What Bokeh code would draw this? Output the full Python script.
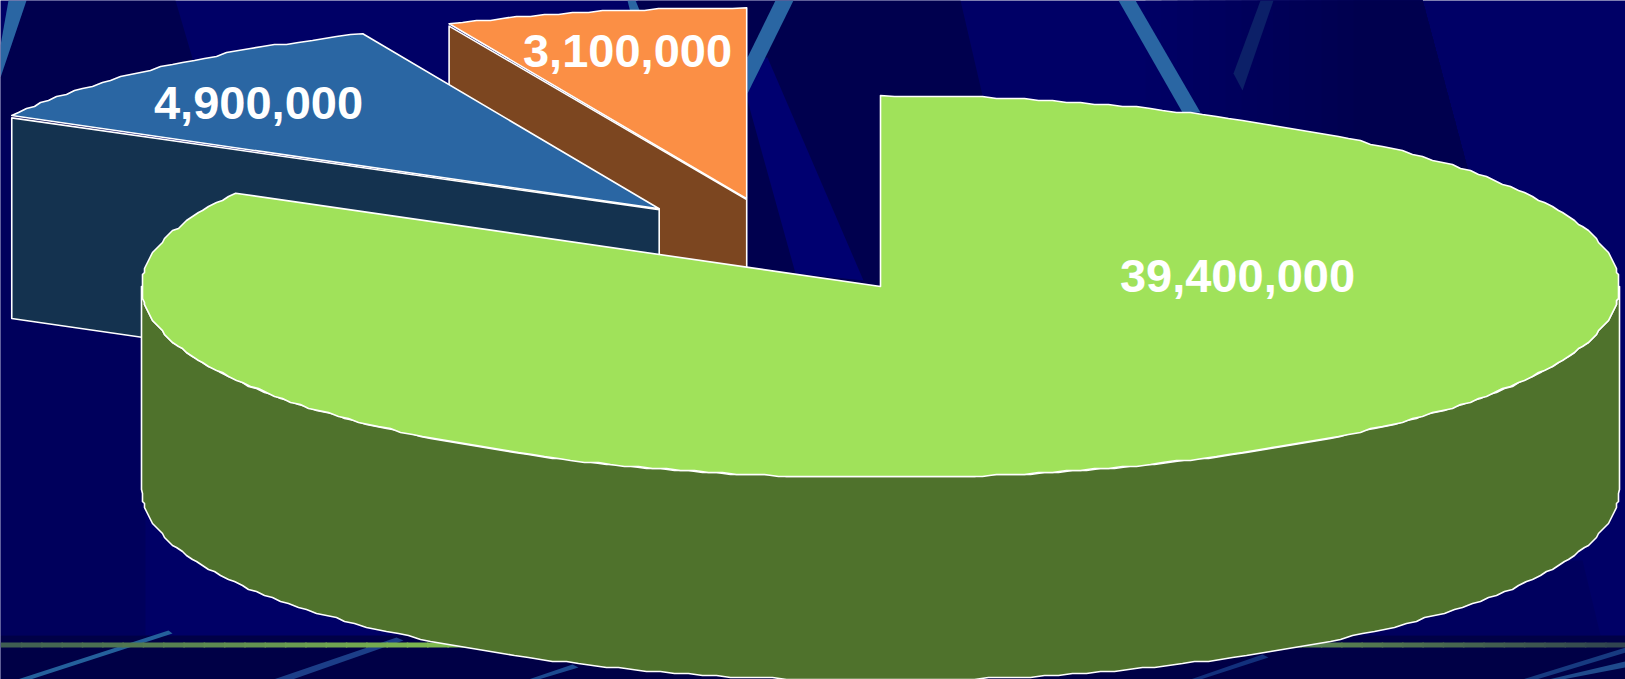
import math
from bokeh.core.properties import value
from bokeh.embed import file_html
from bokeh.models import Range1d
from bokeh.plotting import figure
from bokeh.resources import INLINE

# ---- data ----
slice_values = [39400000, 4900000, 3100000]
top_colors = ["#A0E25A", "#2A66A3", "#FB8F45"]
side_colors = ["#4F722C", "#14324F", "#7C4620"]

# ---- layout (reference pixel space) ----
W, H = 1625, 679
RY, DEPTH = 191, 203
slice_rx = [739, 742, 745]
slice_centers = [(880, 286), (658.7, 208.3), (746.2, 198.3)]
label_anchor = [(1237, 275), (258, 102), (627, 50.5)]
BG = "#000066"

p = figure(width=W, height=H, output_backend="svg", toolbar_location=None,
           x_range=Range1d(0, W), y_range=Range1d(H, 0),
           min_border=0, border_fill_color=BG, background_fill_color=BG,
           outline_line_color=None)
p.axis.visible = False
p.grid.visible = False

# ---- background decoration ----
dark = "#00004E"
mid = "#00005E"
bg_shapes = [
    ([26, 175, 192, 205, 0, 0], [0, 0, 58, 130, 130, 77], dark),
    ([0, 145, 145, 0], [130, 130, 635, 635], "#00005C"),
    ([637, 960, 982, 1000, 640], [0, 0, 95, 300, 300], dark),
    ([767, 863, 795, 747, 747], [57, 280, 273, 100, 60], "#000070"),
]
# soft fade towards the dark wedge on the right
for k in range(14):
    shade = 0x64 - k * (0x64 - 0x4E) // 13
    left = 1145 + k * 16
    bg_shapes.append(([left, 1422, 1467, 1467, left], [0, 0, 168, 200, 200],
                      "#0000%02x" % shade))
bg_shapes += [
    ([1000, 1582, 1600, 1000], [560, 560, 635, 635], mid),
    ([0, W, W, 0], [635, 635, 679, 679], "#000046"),
]
streaks = [
    ([8, 26, 0, 0], [0, 0, 77, 45], "#2A66A3"),
    ([627, 635, 640, 630], [0, 0, 12, 12], "#2A66A3"),
    ([775, 793, 747, 747], [0, 0, 93, 57], "#2A66A3"),
    ([1118, 1135, 1200, 1182], [0, 0, 112, 112], "#2A66A3"),
    ([1260, 1273, 1242, 1233], [0, 0, 90, 73], "#0C2068"),
    ([17, 30, 172, 168], [679, 679, 633, 630], "#24609C"),
    ([273, 292, 403, 396], [679, 679, 640, 637], "#1C3E88"),
    ([528, 538, 578, 572], [679, 679, 667, 664], "#1C4A90"),
    ([1190, 1200, 1268, 1262], [679, 679, 657, 654], "#12307C"),
    ([1522, 1536, W, W], [679, 679, 652, 647], "#173A80"),
    ([1548, 1562, W, W], [679, 679, 667, 661], "#1F4A8C"),
]
p.patches([s[0] for s in bg_shapes], [s[1] for s in bg_shapes],
          fill_color=[s[2] for s in bg_shapes], line_color=None)
p.patches([s[0] for s in streaks], [s[1] for s in streaks],
          fill_color=[s[2] for s in streaks], line_color=None)

# gradient stripe near the bottom
stops = [(0, (0x3E, 0x5C, 0x52)), (450, (0x80, 0xBC, 0x50)), (900, (0x80, 0xBC, 0x50)),
         (1200, (0x6A, 0x9A, 0x50)), (W, (0x2F, 0x42, 0x50))]


def stripe_color(x):
    for (x0, c0), (x1, c1) in zip(stops, stops[1:]):
        if x <= x1:
            t = (x - x0) / (x1 - x0)
            return "#%02x%02x%02x" % tuple(round(a + (b - a) * t) for a, b in zip(c0, c1))
    return "#2f4250"


n_seg = 80
edges = [W * i / n_seg for i in range(n_seg + 1)]
p.quad(left=edges[:-1], right=[e + 1.5 for e in edges[1:]], top=642, bottom=647,
       fill_color=[stripe_color((a + b) / 2) for a, b in zip(edges, edges[1:])],
       line_color=None)


# ---- pie ----
def pt(center, rx, theta):
    return (center[0] + rx * math.sin(theta), center[1] - RY * math.cos(theta))


total = sum(slice_values)
angles = [0.0]
for v in slice_values:
    angles.append(angles[-1] + 2 * math.pi * v / total)

WHITE = dict(line_color="white", line_width=1.6, line_join="round")
GRID = 2.0


def arc(center, rx, a0, a1, n=320):
    # fine outline snapped to a grid, like the reference's stepped ellipse
    n = max(4, int(n * abs(a1 - a0) / (2 * math.pi)) + 1)
    pts = []
    for i in range(n + 1):
        x, y = pt(center, rx, a0 + (a1 - a0) * i / n)
        if 0 < i < n:
            x, y = round(x / GRID) * GRID, round(y / GRID) * GRID
        pts.append((x, y))
    return pts


# draw back slices first: orange, blue, green
for i in (2, 1, 0):
    c = slice_centers[i]
    rx = slice_rx[i]
    a0, a1 = angles[i], angles[i + 1]
    if i == 0:
        lower = arc(c, rx, math.pi / 2, 3 * math.pi / 2)
        xs = [q[0] for q in lower] + [q[0] for q in reversed(lower)]
        ys = [q[1] for q in lower] + [q[1] + DEPTH for q in reversed(lower)]
    else:
        e = pt(c, rx, a0)
        xs = [e[0], c[0], c[0], e[0]]
        ys = [e[1] + 2.4, c[1] + 0.8, c[1] + DEPTH, e[1] + DEPTH]
    p.patch(xs, ys, fill_color=side_colors[i], **WHITE)
    top = arc(c, rx, a0, a1)
    p.patch([c[0]] + [q[0] for q in top], [c[1]] + [q[1] for q in top],
            fill_color=top_colors[i], **WHITE)

# ---- labels ----
p.text(x=[a[0] for a in label_anchor], y=[a[1] for a in label_anchor],
       text=[f"{v:,}" for v in slice_values], text_color="white",
       text_font=value("Liberation Sans"), text_font_style="bold", text_font_size="47px",
       text_align="center", text_baseline="alphabetic")

open("out.html", "w").write(file_html(p, INLINE))
